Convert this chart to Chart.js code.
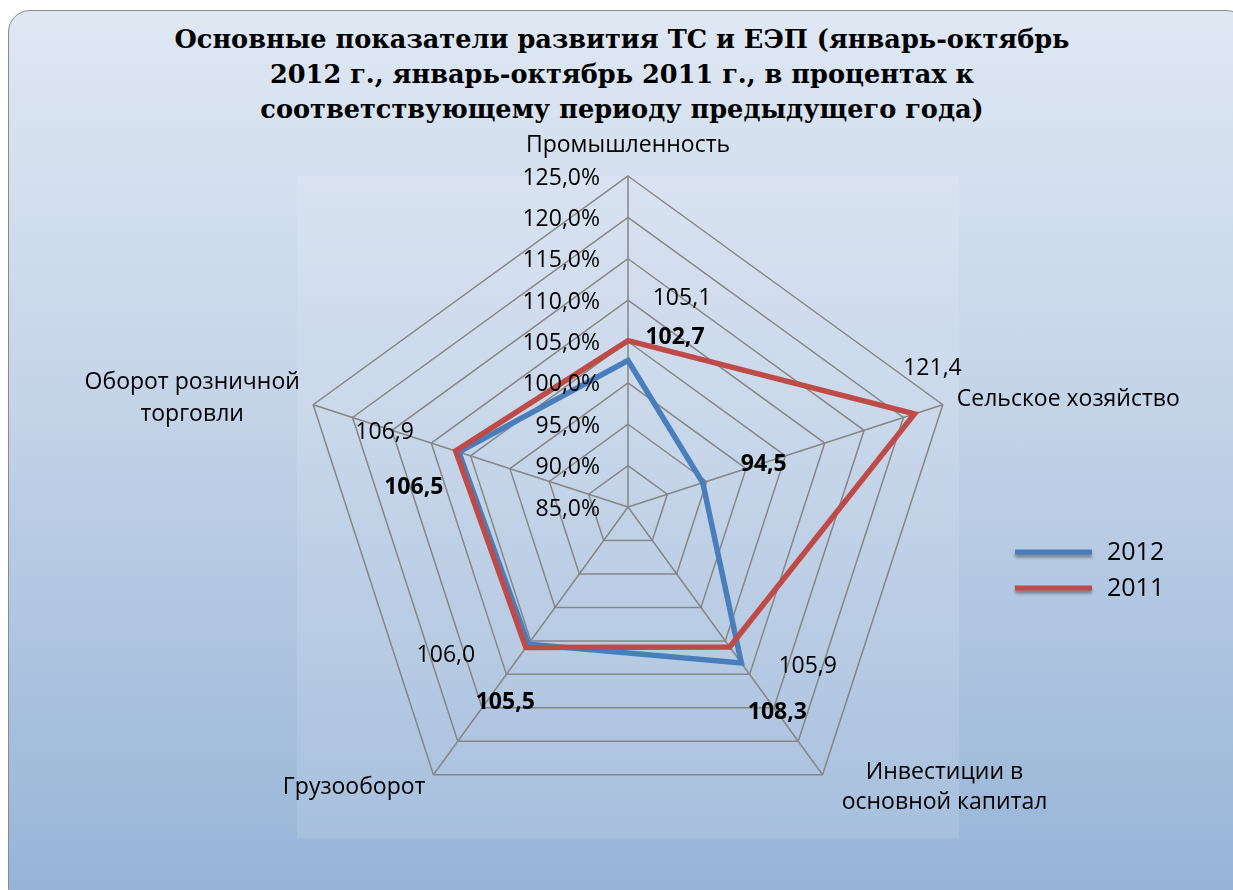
<!DOCTYPE html>
<html lang="ru">
<head>
<meta charset="utf-8">
<title>Основные показатели развития ТС и ЕЭП</title>
<script src="https://cdn.jsdelivr.net/npm/chart.js@4/dist/chart.umd.min.js"></script>
<style>
  html, body { margin: 0; padding: 0; background: #fff; overflow: hidden; }
  #wrap { position: relative; width: 1233px; height: 890px; }
  #box {
    position: absolute; left: 8px; top: 10px; width: 1240px; height: 900px;
    border: 1.5px solid #8a8a8a; border-radius: 22px; box-sizing: border-box;
    background: linear-gradient(180deg, #dfe8f3 0%, #c3d3e8 45%, #95b3d7 100%);
  }
  #title {
    position: absolute; left: 0; top: 22px; width: 1244px; text-align: center;
    font: bold 25.6px "DejaVu Serif", "Liberation Serif", serif; line-height: 35px; color: #000;
  }
  canvas { position: absolute; left: 0; top: 0; }
</style>
</head>
<body>
<div id="wrap">
  <div id="box"></div>
  <div id="title">Основные показатели развития ТС и ЕЭП (январь-октябрь<br>2012 г., январь-октябрь 2011 г., в процентах к<br>соответствующему периоду предыдущего года)</div>
  <canvas id="radar" width="1233" height="890"></canvas>
</div>
<script>
/* ---------- data ---------- */
const CATEGORIES = [
  ["Промышленность"],
  ["Сельское хозяйство"],
  ["Инвестиции в", "основной капитал"],
  ["Грузооборот"],
  ["Оборот розничной", "торговли"],
];
const SERIES_NAMES = ["2012", "2011"];
const VALUES_2012 = [102.7, 94.5, 108.3, 105.5, 106.5];
const VALUES_2011 = [105.1, 121.4, 105.9, 106.0, 106.9];
const AXIS_MIN = 85, AXIS_MAX = 125, AXIS_STEP = 5;

/* ---------- look ---------- */
const FONT = '"Open Sans", "DejaVu Sans", sans-serif';
const C = { blue: "#4A7EBB", red: "#BE4B48", grid: "#868686", ink: "#000" };

// label placement relative to the axis end (dx, dy, align)
const CAT_POS = [
  { dx: 0, dy: -31, align: "center", lh: 30 },
  { dx: 14, dy: -5, align: "left", lh: 30 },
  { dx: 122, dy: -2, align: "center", lh: 30 },
  { dx: -8, dy: 13, align: "right", lh: 30 },
  { dx: -121, dy: -22, align: "center", lh: 32 },
];
// value label offsets from each point, per series
const VAL_POS = [
  [[47, -23], [61, -18], [36, 49], [-23, 58], [-45, 35]],   // 2012 (bold)
  [[54, -42], [18, -45], [78, 20], [-80, 8], [-71, -19]],   // 2011
];

const fmt = (v, d) => v.toFixed(d).replace(".", ",");

/* ---------- plugin: plot area, ticks, category + value labels, legend ---------- */
const decor = {
  id: "decor",
  beforeDraw(chart) {
    const { ctx, chartArea: a } = chart;
    ctx.save();
    ctx.fillStyle = "rgba(255,255,255,0.12)";
    ctx.fillRect(a.left, a.top, a.right - a.left, a.bottom - a.top);
    ctx.restore();
  },
  afterDraw(chart) {
    const { ctx } = chart;
    const r = chart.scales.r;
    ctx.save();
    ctx.fillStyle = C.ink;

    // tick labels along the top axis
    ctx.font = "23px " + FONT;
    ctx.textAlign = "right";
    ctx.textBaseline = "middle";
    r.ticks.forEach((t) => {
      const y = r.yCenter - r.getDistanceFromCenterForValue(t.value);
      ctx.fillText(fmt(t.value, 1) + "%", r.xCenter - 28, y + 2);
    });

    // category labels
    CATEGORIES.forEach((lines, i) => {
      const p = r.getPointPosition(i, r.drawingArea);
      const o = CAT_POS[i];
      ctx.textAlign = o.align;
      lines.forEach((ln, k) => ctx.fillText(ln, p.x + o.dx, p.y + o.dy + k * o.lh));
    });

    // value labels
    ctx.textAlign = "center";
    chart.data.datasets.forEach((ds, di) => {
      ctx.font = (di === 0 ? "bold " : "") + "23px " + FONT;
      chart.getDatasetMeta(di).data.forEach((pt, i) => {
        const [dx, dy] = VAL_POS[di][i];
        ctx.fillText(fmt(ds.data[i], 1), pt.x + dx, pt.y + dy);
      });
    });

    // legend
    ctx.font = "25px " + FONT;
    ctx.textAlign = "left";
    chart.data.datasets.forEach((ds, di) => {
      const y = 552 + di * 36;
      ctx.save();
      ctx.shadowColor = "rgba(0,0,0,0.35)";
      ctx.shadowBlur = 3;
      ctx.shadowOffsetY = 3;
      ctx.strokeStyle = ds.borderColor;
      ctx.lineWidth = 5;
      ctx.beginPath();
      ctx.moveTo(1015, y);
      ctx.lineTo(1092, y);
      ctx.stroke();
      ctx.restore();
      ctx.fillText(ds.label, 1107, y + 1);
    });
    ctx.restore();
  },
};

new Chart(document.getElementById("radar"), {
  type: "radar",
  data: {
    labels: CATEGORIES,
    datasets: [
      { label: SERIES_NAMES[0], data: VALUES_2012, borderColor: C.blue, order: 2 },
      { label: SERIES_NAMES[1], data: VALUES_2011, borderColor: C.red, order: 1 },
    ].map((d) => ({ ...d, borderWidth: 5.5, fill: false, tension: 0, pointRadius: 0,
                    pointHoverRadius: 0, borderJoinStyle: "miter" })),
  },
  options: {
    responsive: false,
    animation: false,
    devicePixelRatio: 1,
    layout: { padding: { left: 297, right: 274, top: 176, bottom: 52 } },
    plugins: { legend: { display: false }, title: { display: false }, tooltip: { enabled: false } },
    scales: {
      r: {
        min: AXIS_MIN, max: AXIS_MAX, beginAtZero: false,
        ticks: { stepSize: AXIS_STEP, display: false },
        pointLabels: { display: false },
        grid: { color: C.grid, lineWidth: 1.5 },
        angleLines: { color: C.grid, lineWidth: 1.5 },
      },
    },
  },
  plugins: [decor],
});
</script>
</body>
</html>
